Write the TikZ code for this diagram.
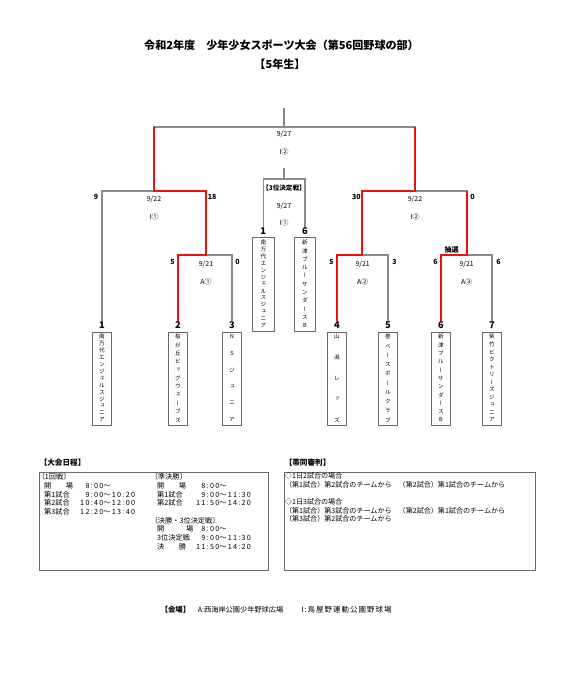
\documentclass[tikz,border=0pt]{standalone}
\usepackage{fontspec}
\setmainfont{Noto Sans CJK JP}
\newfontfamily\vertjp{Noto Sans CJK JP}[RawFeature=+vert]
\newfontfamily\timejp{Noto Sans CJK JP}[LetterSpace=18]
\newfontfamily\widejp{Noto Sans CJK JP}[LetterSpace=14]
\usepackage{tikz}
\usetikzlibrary{positioning, calc}
\definecolor{bracketgray}{HTML}{8A8A8A}
\definecolor{winred}{HTML}{F01010}
\definecolor{boxgray}{HTML}{6A6A6A}

\newcommand{\tmtxt}[1]{{\timejp #1}}
\newcommand{\vname}[3]{%
  \foreach \ch [count=\k] in {#3}
    \node[namechar] (#1c\k) at ($(#1.north)+(0,{5.3+(\k-1)*83/(#2-1)})$) {\ch};}

\begin{document}
\begin{tikzpicture}[x=0.75pt, y=-0.75pt,
  gline/.style={draw=bracketgray, line width=0.8pt},
  rline/.style={draw=winred, line width=1.3pt},
  teambox/.style={draw=boxgray, line width=0.6pt, minimum width=14.25pt, minimum height=70.4pt, anchor=north, inner sep=0pt},
  teamno/.style={font=\bfseries\fontsize{7}{8}\selectfont, inner sep=0pt, anchor=base},
  namechar/.style={font=\vertjp\fontsize{4.2}{5}\selectfont, inner sep=0pt},
  score/.style={font=\bfseries\fontsize{5.3}{6}\selectfont, inner sep=0pt},
  matchinfo/.style={font=\fontsize{5.2}{6}\selectfont, inner sep=0pt},
  boxhead/.style={font=\bfseries\fontsize{5.7}{7}\selectfont, inner sep=0pt, anchor=west},
  infobox/.style={draw=boxgray, line width=0.6pt, anchor=north west, inner sep=0pt},
  infotext/.style={font=\fontsize{5.4}{6.45}\selectfont, inner sep=0pt, anchor=north west, align=left}]

  \useasboundingbox (0,0) rectangle (585,679);

  % Title
  \node[font=\bfseries\fontsize{8.3}{10}\selectfont] (title) at (281.5,45.7) {令和2年度　少年少女スポーツ大会（第56回野球の部）};
  \node[font=\bfseries\fontsize{8.3}{10}\selectfont] (grade) at (280,64) {【5年生】};

  % Teams
  \foreach \i/\x in {1/102,2/178,3/232,4/337,5/388,6/441,7/492} {
    \node[teamno] (t\i) at (\x,328.5) {\i};
    \node[teambox] (b\i) at (\x,331.5) {};
  }
  \node[teamno] (q1) at (263.3,234.5) {1};
  \node[teambox, minimum width=16pt] (bq1) at (263.3,237.3) {};
  \node[teamno] (q6) at (305,234.5) {6};
  \node[teambox, minimum width=16pt] (bq6) at (305,237.3) {};

  \vname{b1}{13}{南,万,代,エ,ン,ジ,ェ,ル,ス,ジ,ュ,ニ,ア}
  \vname{b2}{11}{桜,が,丘,ビ,ッ,グ,ウ,ェ,ー,ブ,ズ}
  \vname{b3}{6}{N,S,ジ,ュ,ニ,ア}
  \vname{b4}{5}{山,潟,レ,ッ,ズ}
  \vname{b5}{10}{巻,ベ,ー,ス,ボ,ー,ル,ク,ラ,ブ}
  \vname{b6}{11}{新,津,ブ,ル,ー,サ,ン,ダ,ー,ス,B}
  \vname{b7}{12}{紫,竹,ビ,ク,ト,リ,ー,ズ,ジ,ュ,ニ,ア}
  \vname{bq1}{13}{南,万,代,エ,ン,ジ,ェ,ル,ス,ジ,ュ,ニ,ア}
  \vname{bq6}{11}{新,津,ブ,ル,ー,サ,ン,ダ,ー,ス,B}

  % Junctions
  \coordinate (a1) at (206,255);
  \coordinate (a2) at (362,255);
  \coordinate (a3) at (467,255);
  \coordinate (s1) at (154,191);
  \coordinate (s2) at (415,191);
  \coordinate (fn) at (284,127);
  \coordinate (fntop) at (284,108);
  \coordinate (tp) at (284,179);
  \coordinate (tptop) at (284,168);

  % Connections
  \draw[gline] (t2.north) |- (a1) -| (t3.north);
  \draw[gline] (t4.north) |- (a2) -| (t5.north);
  \draw[gline] (t6.north) |- (a3) -| (t7.north);
  \draw[gline] (t1.north) |- (s1) -| (a1);
  \draw[gline] (a2) |- (s2) -| (a3);
  \draw[gline] (s1) |- (fn) -| (s2);
  \draw[gline] (fn) -- (fntop);
  \draw[gline] (q1.north) |- (tp) -| (q6.north);
  \draw[gline] (tp) -- (tptop);

  \draw[rline] (t2.north) |- (a1) |- (s1) -- (s1 |- fn);
  \draw[rline] (t4.north) |- (a2) |- (s2) -- (s2 |- fn);
  \draw[rline] (t6.north) |- (a3) -- (a3 |- s2);

  % Scores
  \node[score, anchor=east] (sc1) at (98.5,197) {9};
  \node[score, anchor=west] (sc18) at (207.5,197) {18};
  \node[score, anchor=east] (sc30) at (361,197) {30};
  \node[score, anchor=west] (sc0) at (470,197) {0};
  \node[score, anchor=east] (sa1l) at (175,261.7) {5};
  \node[score, anchor=west] (sa1r) at (235,261.7) {0};
  \node[score, anchor=east] (sa2l) at (334,261.7) {5};
  \node[score, anchor=west] (sa2r) at (392,261.7) {3};
  \node[score, anchor=east] (sa3l) at (438,261.7) {6};
  \node[score, anchor=west] (sa3r) at (496,261.7) {6};
  \node[score] (lot) at (451.7,250) {抽選};

  % Dates and venues
  \node[matchinfo] (da1) at (206,264) {9/21};
  \node[matchinfo] (va1) at (206,281.7) {A①};
  \node[matchinfo] (da2) at (362.7,264) {9/21};
  \node[matchinfo] (va2) at (362.7,281.7) {A②};
  \node[matchinfo] (da3) at (466.7,264) {9/21};
  \node[matchinfo] (va3) at (466.7,281.7) {A③};
  \node[matchinfo] (ds1) at (154,199.7) {9/22};
  \node[matchinfo] (vs1) at (154,217) {I①};
  \node[matchinfo] (ds2) at (415,199.7) {9/22};
  \node[matchinfo] (vs2) at (415,217) {I②};
  \node[matchinfo] (dfn) at (284,134.3) {9/27};
  \node[matchinfo] (vfn) at (284,151.7) {I②};
  \node[font=\bfseries\fontsize{4.9}{6}\selectfont, inner sep=0pt] (tphead) at (284,188.3) {【3位決定戦】};
  \node[matchinfo] (dtp) at (284,206) {9/27};
  \node[matchinfo] (vtp) at (284,222.7) {I①};

  % Schedule
  \node[boxhead] (schedhead) at (39.5,463) {【大会日程】};
  \node[infobox, minimum width=171.75pt, minimum height=73.7pt] (schedbox) at (39.3,471.7) {};
  \node[infotext] (schedl) at (37.5,473.5) {%
    \begin{tabular}{@{\hspace{0.9em}}l@{\hspace{1em}}r@{}l@{}}
      \multicolumn{3}{@{}l@{}}{〔1回戦〕}\\
      開　　場 & \tmtxt{8:00} & \tmtxt{～}\\
      第1試合 & \tmtxt{9:00} & \tmtxt{～10:20}\\
      第2試合 & \tmtxt{10:40} & \tmtxt{～12:00}\\
      第3試合 & \tmtxt{12:20} & \tmtxt{～13:40}
    \end{tabular}};
  \node[infotext] (schedr) at (150.5,473.5) {%
    \begin{tabular}{@{\hspace{0.9em}}l@{\hspace{0.4em}}r@{}l@{}}
      \multicolumn{3}{@{}l@{}}{〔準決勝〕}\\
      開　　場 & \tmtxt{8:00} & \tmtxt{～}\\
      第1試合 & \tmtxt{9:00} & \tmtxt{～11:30}\\
      第2試合 & \tmtxt{11:50} & \tmtxt{～14:20}\\[6.45pt]
      \multicolumn{3}{@{}l@{}}{〔決勝・3位決定戦〕}\\
      開　　　場 & \tmtxt{8:00} & \tmtxt{～}\\
      3位決定戦 & \tmtxt{9:00} & \tmtxt{～11:30}\\
      決　　勝 & \tmtxt{11:50} & \tmtxt{～14:20}
    \end{tabular}};

  % Umpires
  \node[boxhead] (umphead) at (284.5,463) {【帯同審判】};
  \node[infobox, minimum width=188.25pt, minimum height=73.7pt] (umpbox) at (284,471.7) {};
  \node[infotext, font=\fontsize{5.3}{6.45}\selectfont] (umptext) at (284.8,472.3) {◇1日2試合の場合\\（第1試合）第2試合のチームから　（第2試合）第1試合のチームから\\[6.45pt]◇1日3試合の場合\\（第1試合）第3試合のチームから　（第2試合）第1試合のチームから\\（第3試合）第2試合のチームから};

  % Venues
  \node[boxhead, font=\bfseries\fontsize{5.5}{7}\selectfont] (venuehead) at (160.5,610) {【会場】};
  \node[boxhead, font=\fontsize{5.4}{7}\selectfont] (venuea) at (197.5,610) {A:西海岸公園少年野球広場};
  \node[boxhead, font=\widejp\fontsize{5.6}{7}\selectfont] (venuei) at (301,610) {I:鳥屋野運動公園野球場};
\end{tikzpicture}
\end{document}
